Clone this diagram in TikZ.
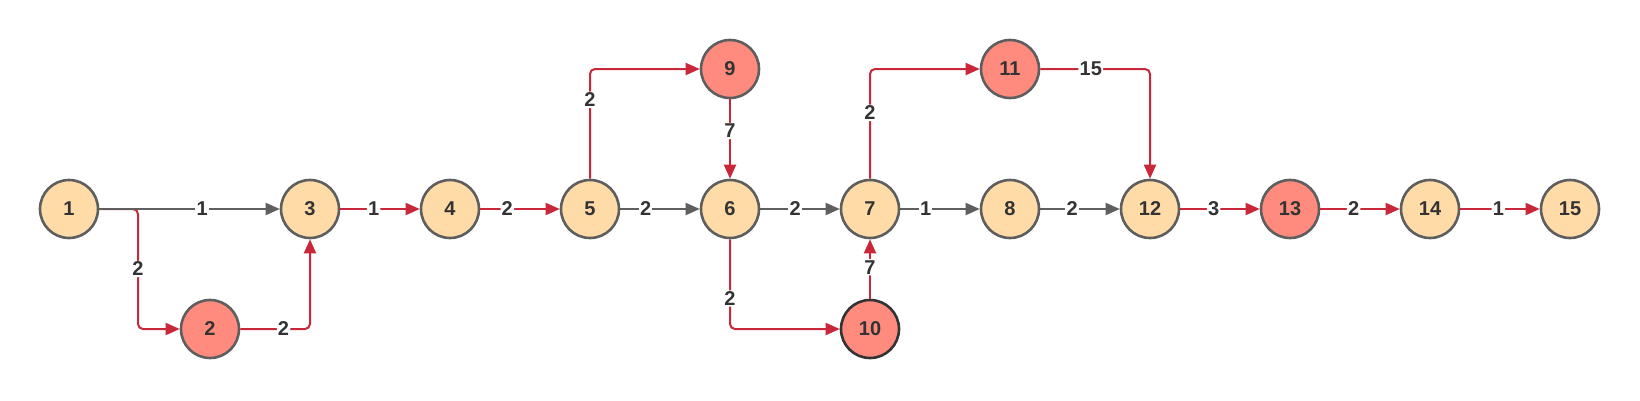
\documentclass[tikz,border=0pt]{standalone}
\usepackage{fontspec}
\setmainfont{Liberation Sans}
\usetikzlibrary{arrows.meta}
\definecolor{peach}{HTML}{FFDBA8}
\definecolor{salmon}{HTML}{FF8B7E}
\definecolor{bordergray}{HTML}{5E5E5E}
\definecolor{edgered}{HTML}{C8283A}
\definecolor{edgegray}{HTML}{5F5F5F}
\definecolor{txt}{HTML}{333333}
\tikzset{
  ev/.style={circle, draw=bordergray, line width=2.6pt, minimum size=58pt, inner sep=0pt,
    font=\fontsize{20}{24}\selectfont\bfseries, text=txt},
  pe/.style={ev, fill=peach},
  cr/.style={ev, fill=salmon},
  rl/.style={draw=edgered, line width=2pt, rounded corners=5pt, -{Triangle[length=14pt,width=12pt]}},
  gl/.style={draw=edgegray, line width=2pt, -{Triangle[length=14pt,width=12pt]}},
  lbl/.style={fill=white, inner sep=1.2pt, font=\fontsize{20}{24}\selectfont\bfseries, text=txt},
}
\begin{document}
\begin{tikzpicture}[x=1pt,y=-1pt]
\useasboundingbox (0,0) rectangle (1640,400);
\node[pe] (n1) at (69,209) {1};
\node[pe] (n3) at (310,209) {3};
\node[pe] (n4) at (450,209) {4};
\node[pe] (n5) at (590,209) {5};
\node[pe] (n6) at (730,209) {6};
\node[pe] (n7) at (870,209) {7};
\node[pe] (n8) at (1010,209) {8};
\node[pe] (n12) at (1150,209) {12};
\node[cr] (n13) at (1290,209) {13};
\node[pe] (n14) at (1430,209) {14};
\node[pe] (n15) at (1570,209) {15};
\node[cr] (n2) at (210,329) {2};
\node[cr] (n9) at (730,69) {9};
\node[cr, draw=txt] (n10) at (870,329) {10};
\node[cr] (n11) at (1010,69) {11};
\coordinate (b12) at (138,209);
% red bent edges
\draw[rl] (n1.east) -- (b12) -- node[lbl]{2} (b12 |- n2) -- (n2);
\draw[rl] (n2) -| node[lbl,pos=0.31]{2} (n3);
\draw[rl] (n5) |- node[lbl,pos=0.36]{2} (n9);
\draw[rl] (n9) -- node[lbl,pos=0.4]{7} (n6);
\draw[rl] (n6) |- node[lbl,pos=0.33]{2} (n10);
\draw[rl] (n10) -- node[lbl,pos=0.53]{7} (n7);
\draw[rl] (n7) |- node[lbl,pos=0.3]{2} (n11);
\draw[rl] (n11) -| node[lbl,pos=0.23]{15} (n12);
% straight edges
\draw[gl] (n1) -- node[lbl,pos=0.57]{1} (n3);
\draw[rl] (n3) -- node[lbl,pos=0.42]{1} (n4);
\draw[rl] (n4) -- node[lbl,pos=0.34]{2} (n5);
\draw[gl] (n5) -- node[lbl,pos=0.32]{2} (n6);
\draw[gl] (n6) -- node[lbl,pos=0.44]{2} (n7);
\draw[gl] (n7) -- node[lbl,pos=0.32]{1} (n8);
\draw[gl] (n8) -- node[lbl,pos=0.4]{2} (n12);
\draw[rl] (n12) -- node[lbl,pos=0.42]{3} (n13);
\draw[rl] (n13) -- node[lbl,pos=0.42]{2} (n14);
\draw[rl] (n14) -- node[lbl,pos=0.48]{1} (n15);
\end{tikzpicture}
\end{document}
